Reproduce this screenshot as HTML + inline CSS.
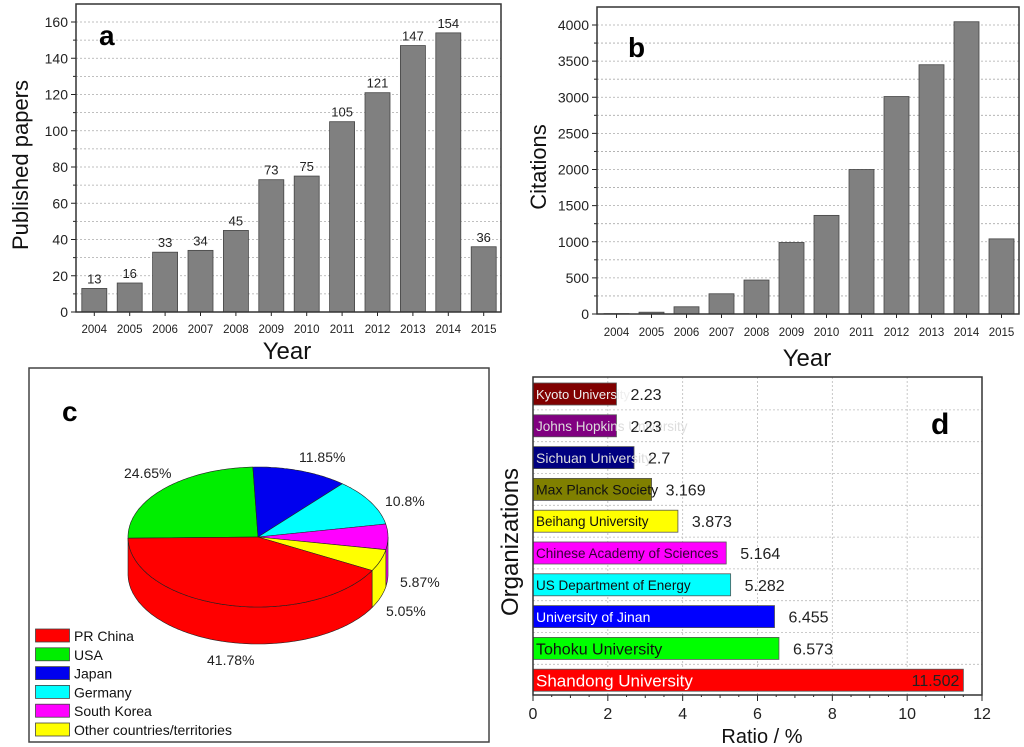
<!DOCTYPE html>
<html><head><meta charset="utf-8"><style>
html,body{margin:0;padding:0;background:#fff}
svg{display:block;font-family:"Liberation Sans",Arial,sans-serif}
</style></head><body>
<svg id="s" width="1024" height="747" viewBox="0 0 1024 747"></svg>
<script>
const years=['2004','2005','2006','2007','2008','2009','2010','2011','2012','2013','2014','2015'];
const papers=[13,16,33,34,45,73,75,105,121,147,154,36];
const citations=[5,25,100,280,470,990,1365,2000,3010,3450,4045,1040];
const papersTicks=[0,20,40,60,80,100,120,140,160];
const citeTicks=[0,500,1000,1500,2000,2500,3000,3500,4000];
const countries=['PR China','USA','Japan','Germany','South Korea','Other countries/territories'];
const shares=[41.78,24.65,11.85,10.8,5.87,5.05];
const shareLabels=['41.78%','24.65%','11.85%','10.8%','5.87%','5.05%'];
const orgs=['Kyoto University','Johns Hopkins University','Sichuan University','Max Planck Society','Beihang University','Chinese Academy of Sciences','US Department of Energy','University of Jinan','Tohoku University','Shandong University'];
const ratios=[2.23,2.23,2.7,3.169,3.873,5.164,5.282,6.455,6.573,11.502];
const ratioLabels=['2.23','2.23','2.7','3.169','3.873','5.164','5.282','6.455','6.573','11.502'];
const ratioTicks=[0,2,4,6,8,10,12];

const NS='http://www.w3.org/2000/svg';
const svg=document.getElementById('s');
function mk(tag,attrs,parent,text){const e=document.createElementNS(NS,tag);for(const k in attrs)e.setAttribute(k,attrs[k]);if(text!==undefined)e.textContent=text;(parent||svg).appendChild(e);return e;}

function barPanel(opt){
  const g=mk('g',{});
  
  
  const {x0,x1,yTop,vmax,yPix0,first,step,vals,ticks,minor}=opt;
  const ys=v=>yPix0-(v/vmax)*(yPix0-opt.yMaxPix);
  const xs=i=>first+i*step;
  for(let v=minor;v<=vmax+0.001;v+=minor){
    const l=mk('line',{x1:x0,x2:x1,y1:ys(v),y2:ys(v),stroke:'#aaa','stroke-width':0.8,'stroke-dasharray':'2,2'},g);
    
    
  }
  vals.forEach((v,i)=>{
    const r=mk('rect',{x:xs(i)-12.5,y:ys(v),width:25,height:yPix0-ys(v),fill:'#808080',stroke:'#444','stroke-width':0.8},g);
    
    
    if(opt.showVals){
      const t=mk('text',{x:xs(i),y:ys(v)-5,'font-size':13,'text-anchor':'middle',fill:'#222'},g,String(v));
      
      
    }
    const tl=mk('text',{x:xs(i),y:opt.tickY,'font-size':11.5,'text-anchor':'middle',fill:'#222'},g,years[i]);
    
    
    mk('line',{x1:xs(i),x2:xs(i),y1:yPix0,y2:yPix0+4,stroke:'#222'},g);
  });
  ticks.forEach(v=>{
    mk('line',{x1:x0-5,x2:x0,y1:ys(v),y2:ys(v),stroke:'#222'},g);
    const t=mk('text',{x:x0-8,y:ys(v)+5,'font-size':14,'text-anchor':'end',fill:'#222'},g,String(v));
    
    
  });
  for(let v=minor;v<vmax;v+=minor*2){mk('line',{x1:x0-3,x2:x0,y1:ys(v),y2:ys(v),stroke:'#222'},g);}
  const f=mk('rect',{x:x0,y:yTop,width:x1-x0,height:yPix0-yTop,fill:'none',stroke:'#333','stroke-width':1.5},g);
  
  
  const xt=mk('text',{x:opt.xtX,y:opt.xtY,'font-size':24,'text-anchor':'middle',fill:'#111'},g,'Year');
  
  
  const yt=mk('text',{x:0,y:0,'font-size':22,'text-anchor':'middle',fill:'#111',transform:`translate(${opt.ytX},${opt.ytY}) rotate(-90)`},g,opt.ytitle);
  
  
  const pl=mk('text',{x:opt.plX,y:opt.plY,'font-size':28,'font-weight':'bold',fill:'#000'},g,opt.letter);
  
  
}
barPanel({name:'chart-a-published-papers',x0:76,x1:501,yTop:4,yPix0:312,yMaxPix:22,vmax:160,first:94.3,step:35.4,vals:papers,ticks:papersTicks,minor:10,showVals:true,tickY:333,xtX:287,xtY:359,ytX:28,ytY:165,ytitle:'Published papers',letter:'a',plX:99,plY:45});
barPanel({name:'chart-b-citations',x0:597,x1:1019,yTop:7,yPix0:314,yMaxPix:25,vmax:4000,first:616.5,step:35,vals:citations,ticks:citeTicks,minor:250,showVals:false,tickY:336,xtX:807,xtY:366,ytX:546,ytY:167,ytitle:'Citations',letter:'b',plX:628,plY:57});

(function(){
  const g=mk('g',{});
  
  
  const fr=mk('rect',{x:29,y:368,width:460,height:374,fill:'#fff',stroke:'#444','stroke-width':1.5},g);
  
  
  const cols=['#ff0000','#00ee00','#0000ee','#00ffff','#ff00ff','#ffff00'];
  const cx=258,cy=537,rx=130,ry=70,d=37;
  const order=[1,2,3,4,5,0];
  let a=181;
  const segs=[];
  order.forEach(k=>{const sw=shares[k]/100*360;segs.push({k,a0:a,a1:a-sw});a-=sw;});
  const P=(deg,dy)=>{const r=deg*Math.PI/180;return [cx+rx*Math.cos(r),cy-ry*Math.sin(r)+(dy||0)];};
  segs.forEach(s=>{
    const lo=Math.max(Math.min(s.a0,0),-180), hi=Math.max(Math.min(s.a1,0),-180);
    if(lo-hi<=0.01) return;
    let pts=[];
    for(let t=lo;t>=hi;t-=1)pts.push(P(t));
    pts.push(P(hi));
    let back=[];
    for(let t=hi;t<=lo;t+=1)back.push(P(t,d));
    back.push(P(lo,d));
    const p=mk('path',{d:'M'+pts.concat(back).map(q=>q[0].toFixed(1)+','+q[1].toFixed(1)).join('L')+'Z',fill:cols[s.k],stroke:'#222','stroke-width':0.6},g);
    
    
  });
  segs.forEach(s=>{
    let pts=[];
    for(let t=s.a0;t>=s.a1;t-=1)pts.push(P(t));
    pts.push(P(s.a1));
    const p=mk('path',{d:`M${cx},${cy}L`+pts.map(q=>q[0].toFixed(1)+','+q[1].toFixed(1)).join('L')+'Z',fill:cols[s.k],stroke:'#222','stroke-width':0.6},g);
    
    
  });
  const lp=[[207,665],[124,478],[299,462],[385,506],[400,587],[386,616]];
  shares.forEach((v,i)=>{
    const t=mk('text',{x:lp[i][0],y:lp[i][1],'font-size':14,fill:'#222'},g,shareLabels[i]);
    
    
  });
  countries.forEach((c,i)=>{
    const y=629+i*18.8;
    const r=mk('rect',{x:35.5,y:y,width:34,height:13,fill:cols[i],stroke:'#444','stroke-width':0.8},g);
    
    
    const t=mk('text',{x:74,y:y+12,'font-size':14,fill:'#111'},g,c);
    
    
  });
  const pl=mk('text',{x:62,y:421,'font-size':28,'font-weight':'bold',fill:'#000'},g,'c');
  
  
})();

(function(){
  const g=mk('g',{});
  
  
  const x0=533,x1=982,yTop=377,yBot=695,vmax=12;
  const xs=v=>x0+v/vmax*(x1-x0);
  const yc=i=>394+i*31.8;
  const cols=['#800000','#800080','#000080','#808000','#ffff00','#ff00ff','#00ffff','#0000ff','#00ff00','#ff0000'];
  const tcol=['#eee','#ddd','#ddd','#111','#111','#330033','#111','#fff','#111','#fff'];
  const fs=[13,13.5,14,14,13.5,13.5,13.5,14,16,17];
  ratioTicks.forEach(v=>{if(v>0&&v<12){mk('line',{x1:xs(v),x2:xs(v),y1:yTop,y2:yBot,stroke:'#bbb','stroke-width':0.8,'stroke-dasharray':'2,2'},g);}});
  for(let i=0;i<9;i++){mk('line',{x1:x0,x2:x1,y1:yc(i)+15.9,y2:yc(i)+15.9,stroke:'#bbb','stroke-width':0.8,'stroke-dasharray':'2,2'},g);}
  ratios.forEach((v,i)=>{
    const r=mk('rect',{x:x0,y:yc(i)-11,width:xs(v)-x0,height:22,fill:cols[i],stroke:'#555','stroke-width':0.8},g);
    
    
    const n=mk('text',{x:x0+3,y:yc(i)+fs[i]*0.37,'font-size':fs[i],fill:tcol[i]},g,orgs[i]);
    
    
    const inside=v>10;
    const vt=mk('text',{x:inside?xs(v)-4:xs(v)+14,y:yc(i)+6,'font-size':16,'text-anchor':inside?'end':'start',fill:'#222'},g,ratioLabels[i]);
    
    
  });
  ratioTicks.forEach(v=>{
    mk('line',{x1:xs(v),x2:xs(v),y1:yBot,y2:yBot+6,stroke:'#222'},g);
    if(v<12)mk('line',{x1:xs(v+1),x2:xs(v+1),y1:yBot,y2:yBot+3,stroke:'#222'},g);
    const t=mk('text',{x:xs(v),y:yBot+24,'font-size':16,'text-anchor':'middle',fill:'#222'},g,String(v));
    
    
  });
  for(let v=0.5;v<12;v+=1)mk('line',{x1:xs(v),x2:xs(v),y1:yBot,y2:yBot+2,stroke:'#222'},g);
  const f=mk('rect',{x:x0,y:yTop,width:x1-x0,height:yBot-yTop,fill:'none',stroke:'#333','stroke-width':1.5},g);
  
  
  const xt=mk('text',{x:762,y:743,'font-size':20,'text-anchor':'middle',fill:'#111'},g,'Ratio / %');
  
  
  const yt=mk('text',{x:0,y:0,'font-size':24,'text-anchor':'middle',fill:'#111',transform:'translate(518,542) rotate(-90)'},g,'Organizations');
  
  
  const pl=mk('text',{x:931,y:434,'font-size':30,'font-weight':'bold',fill:'#000'},g,'d');
  
  
})();
</script>
</body></html>
